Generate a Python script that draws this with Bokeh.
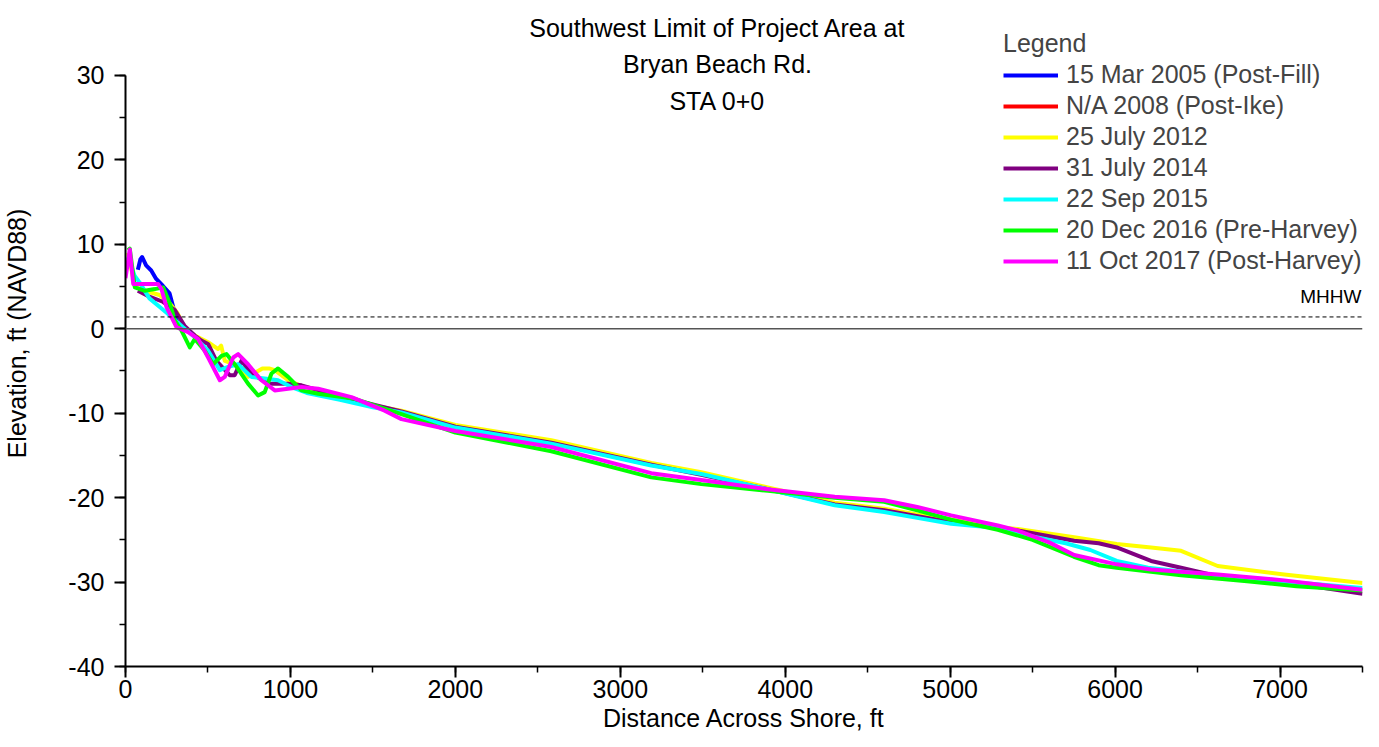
from bokeh.plotting import figure
from bokeh.models import (Range1d, Span, Label, Legend, LegendItem, SingleIntervalTicker,
                          ColumnDataSource, CustomJSTickFormatter)
from bokeh.embed import file_html
from bokeh.resources import INLINE

FONT = "Liberation Sans"

title_lines = ["Southwest Limit of Project Area at", "Bryan Beach Rd.", "STA 0+0"]
x_label = "Distance Across Shore, ft"
y_label = "Elevation, ft (NAVD88)"
mhhw_level = 1.4

series_names = ["15 Mar 2005 (Post-Fill)", "N/A 2008 (Post-Ike)", "25 July 2012", "31 July 2014",
                "22 Sep 2015", "20 Dec 2016 (Pre-Harvey)", "11 Oct 2017 (Post-Harvey)"]
series_colors = ["#0000ff", "#ff0000", "#ffff00", "#800080", "#00ffff", "#00ff00", "#ff00ff"]

x_2005 = [75, 90, 101, 125, 156, 186, 226, 267, 297, 327, 360]
y_2005 = [7.0, 8.2, 8.5, 7.5, 6.9, 5.9, 5.1, 4.2, 2.0, 0.4, -0.2]

# no survey line is visible for 2008 ("N/A")
x_2008 = [float("nan")]
y_2008 = [float("nan")]

x_2012 = [16, 57, 117, 206, 269, 317, 360, 420, 501, 562, 580, 602, 662, 743, 830, 870, 905, 986, 1067,
          1200, 1450, 1673, 2000, 2582, 3188, 3491, 3895, 4300, 4600, 4800, 5006, 5289, 5410, 5752,
          6010, 6218, 6400, 6622, 7025, 7500]
y_2012 = [9.0, 5.0, 4.5, 4.0, 3.0, 1.8, 0.0, -0.8, -1.6, -2.4, -2.0, -3.8, -4.2, -5.7, -4.7, -4.7, -4.9,
          -6.1, -6.8, -7.4, -8.9, -9.7, -11.4, -13.2, -15.9, -17.0, -18.8, -20.6, -21.3, -22.0, -22.6,
          -23.5, -23.7, -24.7, -25.5, -25.9, -26.3, -28.1, -29.1, -30.1]

x_2014 = [75, 145, 226, 300, 360, 420, 460, 501, 551, 632, 662, 703, 763, 865, 986, 1067, 1300, 1673,
          2000, 2582, 3188, 3491, 3895, 4300, 4600, 5006, 5410, 5752, 5900, 6010, 6218, 6400, 6622,
          7025, 7500]
y_2014 = [4.5, 3.8, 3.2, 2.2, 0.3, -0.8, -1.4, -1.8, -3.8, -5.5, -5.5, -3.8, -5.3, -6.5, -6.5, -6.7,
          -8.0, -9.8, -11.6, -13.5, -16.1, -17.3, -19.0, -20.8, -21.5, -22.9, -23.9, -25.1, -25.4,
          -25.9, -27.5, -28.3, -29.3, -30.0, -31.4]

x_2015 = [16, 55, 85, 145, 206, 267, 347, 420, 501, 572, 622, 683, 763, 844, 925, 1006, 1100, 1300,
          1500, 1673, 2000, 2582, 3188, 3491, 3895, 4300, 4600, 4800, 5006, 5289, 5500, 5700, 5850,
          6010, 6200, 6600, 7000, 7500]
y_2015 = [8.5, 6.3, 5.5, 3.6, 2.6, 1.6, 0.2, -1.0, -2.6, -4.9, -4.5, -4.2, -5.7, -5.9, -6.1, -6.9, -7.6,
          -8.4, -9.3, -9.9, -11.7, -13.6, -16.2, -17.2, -19.0, -20.9, -21.7, -22.4, -23.1, -23.6,
          -24.6, -25.4, -26.2, -27.5, -28.3, -29.2, -29.9, -30.7]

x_2016 = [16, 26, 57, 117, 178, 228, 269, 299, 339, 390, 420, 481, 531, 582, 612, 662, 743, 804, 844,
          885, 925, 986, 1067, 1168, 1390, 1673, 2000, 2582, 3188, 3491, 3895, 4300, 4600, 4800, 5006,
          5289, 5500, 5750, 5900, 6010, 6400, 6800, 7100, 7500]
y_2016 = [9.3, 9.5, 4.9, 4.5, 4.7, 4.9, 3.0, 1.0, -0.2, -2.2, -1.2, -2.6, -4.2, -3.2, -3.0, -4.2, -6.5,
          -7.9, -7.5, -5.3, -4.7, -5.7, -7.3, -7.7, -8.3, -10.1, -12.3, -14.5, -17.6, -18.4, -19.2,
          -20.0, -20.5, -21.5, -22.6, -23.8, -25.0, -27.0, -28.0, -28.3, -29.2, -29.9, -30.5, -31.0]

x_2017 = [0, 26, 47, 117, 198, 218, 248, 309, 380, 440, 501, 572, 602, 653, 683, 743, 824, 905, 986,
          1067, 1168, 1370, 1571, 1673, 2000, 2582, 3188, 3491, 3895, 4300, 4600, 4800, 5006, 5289,
          5410, 5600, 5752, 6010, 6218, 6622, 7025, 7500]
y_2017 = [6.0, 9.4, 5.3, 5.3, 5.3, 4.7, 2.6, 0.2, -0.4, -1.2, -3.4, -6.1, -5.7, -3.4, -3.0, -4.2, -6.1,
          -7.3, -7.1, -6.9, -7.1, -8.1, -9.7, -10.7, -12.1, -14.0, -17.1, -17.9, -19.0, -19.9, -20.3,
          -21.1, -22.1, -23.3, -23.9, -25.3, -26.8, -27.9, -28.5, -29.1, -29.8, -30.9]

xs = [x_2005, x_2008, x_2012, x_2014, x_2015, x_2016, x_2017]
ys = [y_2005, y_2008, y_2012, y_2014, y_2015, y_2016, y_2017]

W, H = 1371, 739
p = figure(width=W, height=H, output_backend="svg", toolbar_location=None,
           x_range=Range1d(0, 7500), y_range=Range1d(-40, 38.88),
           min_border_left=124, min_border_right=9, min_border_top=0, min_border_bottom=73)
p.outline_line_color = None
p.xgrid.visible = False
p.ygrid.visible = False

# reference lines
p.add_layout(Span(location=0, dimension="width", line_color="#555555", line_width=1.3))
p.add_layout(Span(location=mhhw_level, dimension="width", line_color="black", line_width=1, line_dash="4 3"))
p.add_layout(Label(x=1236, y=370, x_units="screen", y_units="screen", text="MHHW", text_align="right",
                   text_baseline="alphabetic", text_font=FONT, text_font_size="19px", text_color="black"))

renderers = []
for xv, yv, c in zip(xs, ys, series_colors):
    src = ColumnDataSource(dict(x=xv, y=yv))
    r = p.line("x", "y", source=src, line_color=c, line_width=4, line_join="round")
    renderers.append(r)

legend = Legend(items=[LegendItem(label=n, renderers=[r]) for n, r in zip(series_names, renderers)],
                location=(878, 391), title="Legend", title_text_font=FONT, title_text_font_size="25px",
                title_text_font_style="normal", title_standoff=2,
                label_text_font=FONT, label_text_font_size="25px", label_standoff=8,
                glyph_width=55, glyph_height=20, label_height=20, spacing=2,
                padding=0, margin=0, border_line_alpha=0, background_fill_alpha=0)
p.add_layout(legend)

for i, t in enumerate(title_lines):
    p.add_layout(Label(x=592, y=639 - 36.5 * i, x_units="screen", y_units="screen", text=t,
                       text_align="center", text_baseline="alphabetic", text_font=FONT,
                       text_font_size="25px", text_color="black"))

fmt = CustomJSTickFormatter(code="return String(tick);")
for ax in (p.xaxis[0], p.yaxis[0]):
    ax.formatter = fmt
    ax.axis_line_width = 2
    ax.axis_line_color = "black"
    ax.major_tick_line_width = 2
    ax.minor_tick_line_width = 1.5
    ax.major_tick_in = 0
    ax.major_tick_out = 11
    ax.minor_tick_in = 0
    ax.minor_tick_out = 6
    ax.major_label_text_font = FONT
    ax.major_label_text_font_size = "25px"
    ax.major_label_text_color = "black"
    ax.axis_label_text_font = FONT
    ax.axis_label_text_font_size = "25px"
    ax.axis_label_text_font_style = "normal"
    ax.axis_label_text_color = "black"

p.xaxis.ticker = SingleIntervalTicker(interval=1000, num_minor_ticks=2)
p.yaxis.ticker = SingleIntervalTicker(interval=10, num_minor_ticks=2)
p.yaxis.bounds = (-40, 30)
p.xaxis.axis_label = x_label
p.yaxis.axis_label = y_label
p.xaxis.major_label_standoff = 2
p.xaxis.axis_label_standoff = 3
p.yaxis.major_label_standoff = 10
p.yaxis.axis_label_standoff = 34

open("out.html", "w").write(file_html(p, INLINE))
